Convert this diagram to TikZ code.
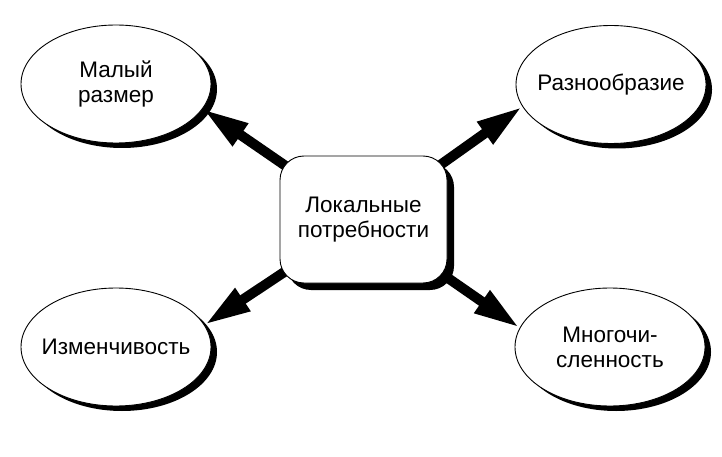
\documentclass[tikz,border=0pt]{standalone}
\usepackage{fontspec}
\setmainfont{Liberation Sans}
\usetikzlibrary{arrows.meta, shapes.geometric, shadows, backgrounds}

\tikzset{
	bubble/.style = {ellipse, draw, line width=0.9pt, fill=white, minimum width=190pt, minimum height=118pt, inner sep=0pt, inner xsep=-20pt, align=center, font=\fontsize{22.5}{25}\selectfont, drop shadow={shadow xshift=6pt, shadow yshift=-5pt, fill=black, opacity=1}},
	hub/.style = {rectangle, rounded corners=24pt, draw, line width=0.9pt, fill=white, minimum width=167pt, minimum height=127pt, align=center, font=\fontsize{22.5}{25}\selectfont, drop shadow={shadow xshift=7pt, shadow yshift=-7pt, fill=black, opacity=1}},
	bigarrow/.style = {line width=10pt, -{Triangle[length=46pt, width=25pt]}}
}

\begin{document}
\begin{tikzpicture}[x=1pt, y=-1pt]
\useasboundingbox (0,0) rectangle (722,457);

\node[hub] (lokal) at (363.5,219.5) {Локальные\\потребности};

\node[bubble] (malyj) at (116,84) {Малый\\размер};
\node[bubble] (raznoobr) at (611,84.5) {Разнообразие};
\node[bubble] (izmen) at (116,347) {Изменчивость};
\node[bubble] (mnogo) at (610,347) {Многочи-\\сленность};

\begin{scope}[on background layer]
\foreach \e/\a in {malyj/-16, raznoobr/194, izmen/14, mnogo/168} {
	\draw[bigarrow] (lokal.center)--(\e.\a);
}
\end{scope}
\end{tikzpicture}
\end{document}
